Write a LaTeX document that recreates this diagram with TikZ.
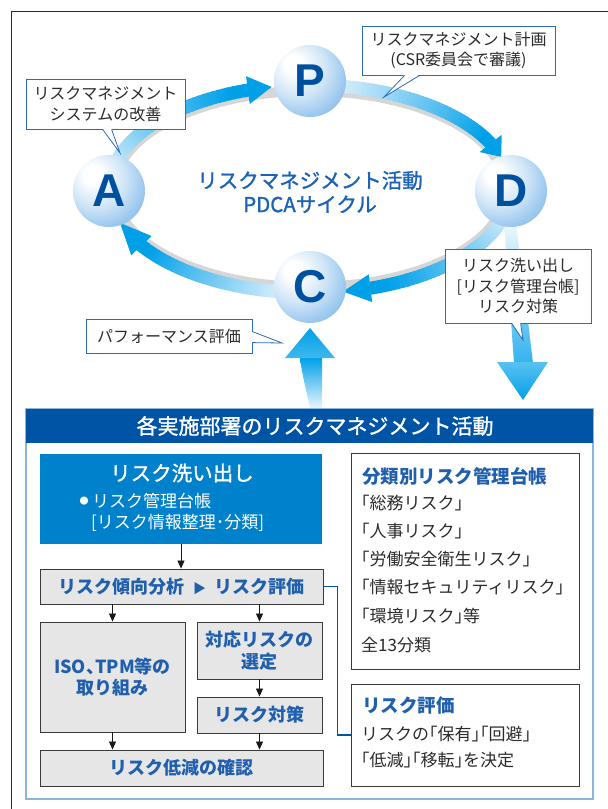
\documentclass[tikz,border=0pt]{standalone}
\usepackage{fontspec}
\setmainfont{Noto Sans CJK JP}[RawFeature=+halt]
\newfontfamily\jpmed[FakeBold=1.3,RawFeature=+halt]{Noto Sans CJK JP}
\newfontfamily\latb{Liberation Sans}
\usetikzlibrary{calc,arrows.meta}
\definecolor{cyanA}{HTML}{00A0E9}
\definecolor{paleA}{HTML}{E3F2FC}
\definecolor{hdrblue}{HTML}{0054A6}
\definecolor{boxblue}{HTML}{0081CC}
\definecolor{txtblue}{HTML}{1F5FAD}
\definecolor{ringtxt}{HTML}{1A63B8}
\definecolor{frameblue}{HTML}{8CB5DD}
\definecolor{callblue}{HTML}{2D6BB5}
\definecolor{darktxt}{HTML}{2B2B2B}
\definecolor{greyfill}{HTML}{E6E6E6}
\definecolor{boxline}{HTML}{3A3A3A}
\definecolor{letterblue}{HTML}{0050A0}
\definecolor{ballin}{HTML}{CFE5F7}
\definecolor{ballmid}{HTML}{8DC0EC}
\definecolor{balledge}{HTML}{4E9CDD}
\definecolor{balldark}{HTML}{2E7ECB}
\definecolor{shadowgrey}{HTML}{D6D6D6}
\pgfdeclareradialshading{pdcaball}{\pgfpoint{-13bp}{13bp}}{color(0bp)=(white); color(6bp)=(white); color(20bp)=(ballin); color(34bp)=(ballmid); color(47bp)=(balledge); color(62bp)=(balldark)}

\newcommand\ringarc[4]{%
  \foreach \i in {0,...,39}{%
    \pgfmathsetmacro\ta{#1+(#2-#1)*\i/40}%
    \pgfmathsetmacro\tb{#1+(#2-#1)*(\i+1.4)/40}%
    \pgfmathsetmacro\pc{min(100,6+\i*2.6)}%
    \draw[line width=13pt, color=cyanA!\pc!paleA] ({310+201*cos(\ta)},{189+104*sin(\ta)}) -- ({310+201*cos(\tb)},{189+104*sin(\tb)});
  }
  \coordinate (#4b) at ({310+201*cos(#2)},{189+104*sin(#2)});
  \coordinate (#4t) at ({310+201*cos(#3)},{189+104*sin(#3)});
  \fill[cyanA] ($(#4b)!14pt!90:(#4t)$) -- (#4t) -- ($(#4b)!14pt!-90:(#4t)$) -- cycle;
}

\tikzset{
  ball/.style={circle, minimum size=72pt, inner sep=0pt, shade, shading=pdcaball, text=letterblue, font=\latb\bfseries\fontsize{46}{46}\selectfont},
  calloutbox/.style={draw=callblue, fill=white, line width=0.8pt, text=darktxt, font=\fontsize{16}{20.5}\selectfont, align=center, inner sep=0pt},
  calltail/.style={draw=callblue, line width=0.8pt},
  greybox/.style={draw=boxline, fill=greyfill, line width=0.9pt, text=txtblue, font=\bfseries\fontsize{18}{21.5}\selectfont, align=center, inner sep=0pt},
  whitebox/.style={draw=boxline, fill=white, line width=0.9pt, inner sep=0pt},
  arr/.style={-{Triangle[width=7pt,length=8pt]}, line width=0.8pt, draw=black!90},
  bodytxt/.style={anchor=west, inner sep=0pt, text=darktxt, font=\fontsize{17}{20}\selectfont},
  titletxt/.style={anchor=west, inner sep=0pt, text=txtblue, font=\bfseries\fontsize{18.5}{22}\selectfont},
}

\begin{document}
\begin{tikzpicture}[x=1pt,y=-1pt]
\useasboundingbox (0,0) rectangle (608,809);
\fill[white] (0,0) rectangle (608,809);
% outer frame
\draw[line width=0.8pt, darktxt] (11.6,809) -- (11.6,11.6) -- (608,11.6);

% shadow ring
\draw[shadowgrey, line width=10pt] (310,189) ellipse[x radius=196, y radius=98];

% down arrow from D
\shade[top color=paleA!50!white, bottom color=cyanA!80!white] (504,222) -- (516,222) -- (533,363) -- (514,363) -- cycle;
\shade[top color=cyanA!65!white, bottom color=cyanA] (497,362) -- (548,362) -- (523,400) -- cycle;

% ring arrows
\ringarc{190}{252}{259}{ap}
\ringarc{-82}{-26}{-18}{pd}
\ringarc{14}{72.5}{80.5}{dc}
\ringarc{98}{147}{161}{ca}

% PDCA balls
\node[ball] (P) at (310,81) {P};
\node[ball] (D) at (511,191) {D};
\node[ball] (C) at (310,287) {C};
\node[ball] (A) at (109,191) {A};

\node[text=ringtxt, align=center, inner sep=0pt, font=\jpmed\fontsize{20.5}{24}\selectfont] (ringtitle) at (310,192) {リスクマネジメント活動\\PDCAサイクル};

% callouts
\node[calloutbox, minimum width=159pt, minimum height=50pt] (cA) at (105.5,104) {リスクマネジメント\\システムの改善};
\coordinate (tA) at (120,153);
\fill[white] ($(cA.south west)+(77,-1)$) -- (tA) -- ($(cA.south west)+(86,-1)$) -- cycle;
\draw[calltail] ($(cA.south west)+(77,0)$) -- (tA) -- ($(cA.south west)+(86,0)$);

\node[calloutbox, minimum width=193pt, minimum height=49pt] (cP) at (458.5,50.5) {リスクマネジメント計画\\{}(CSR委員会で審議)};
\coordinate (tP) at (384,97);
\fill[white] ($(cP.south west)+(43,-1)$) -- (tP) -- ($(cP.south west)+(58,-1)$) -- cycle;
\draw[calltail] ($(cP.south west)+(43,0)$) -- (tP) -- ($(cP.south west)+(58,0)$);

\node[calloutbox, minimum width=146pt, minimum height=74pt] (cD) at (518,286) {リスク洗い出し\\{[}リスク管理台帳{]}\\リスク対策};
\coordinate (tD) at (523,340);
\fill[white] ($(cD.south west)+(67,-1)$) -- (tD) -- ($(cD.south west)+(76,-1)$) -- cycle;
\draw[calltail] ($(cD.south west)+(67,0)$) -- (tD) -- ($(cD.south west)+(76,0)$);

\node[calloutbox, minimum width=166pt, minimum height=34pt] (cC) at (169,336) {パフォーマンス評価};
\coordinate (tC) at (282,343);
\fill[white] ($(cC.north east)+(-1,13)$) -- (tC) -- ($(cC.north east)+(-1,24)$) -- cycle;
\draw[calltail] ($(cC.north east)+(0,13)$) -- (tC) -- ($(cC.north east)+(0,24)$);

% up arrow to C
\shade[top color=cyanA, bottom color=paleA!60!white] (300,358) -- (322,358) -- (322,409) -- (310,409) .. controls (307,392) and (302,375) .. (300,358) -- cycle;
\shade[top color=cyanA, bottom color=cyanA!75!white] (285,358) -- (335,358) -- (310,328) -- cycle;

% bottom section
\draw[frameblue, line width=1.3pt, fill=white] (26,409) rectangle (593,799);
\node[fill=hdrblue, minimum width=567pt, minimum height=34pt, inner sep=0pt] (hdr) at (309.5,426) {};
\node[text=white, inner sep=0pt, font=\jpmed\fontsize{21}{24}\selectfont] (hdrt) at (315,426) {各実施部署のリスクマネジメント活動};

\node[fill=boxblue, minimum width=282pt, minimum height=90pt, inner sep=0pt] (wash) at (181,499) {};
\node[text=white, inner sep=0pt, font=\jpmed\fontsize{20.5}{24}\selectfont] (washt) at (182,473) {リスク洗い出し};
\node[text=white, inner sep=0pt, font=\fontsize{9}{10}\selectfont] (washd) at (84,501) {●};
\node[text=white, anchor=west, inner sep=0pt, font=\fontsize{17}{20}\selectfont] (washa) at (92,501) {リスク管理台帳};
\node[text=white, anchor=west, inner sep=0pt, font=\fontsize{17}{20}\selectfont] (washb) at (91,523) {{[}リスク情報整理･分類{]}};

\node[greybox, minimum width=283pt, minimum height=35pt] (row) at (181.5,586.5) {リスク傾向分析\hspace{9pt}{\fontsize{13}{13}\selectfont ▶}\hspace{9pt}リスク評価};
\node[greybox, minimum width=145pt, minimum height=110pt] (iso) at (112.5,677) {ISO、TPM等の\\取り組み};
\node[greybox, minimum width=125pt, minimum height=57pt] (sel) at (259.5,650.5) {対応リスクの\\選定};
\node[greybox, minimum width=125pt, minimum height=36pt] (tai) at (259.5,715) {リスク対策};
\node[greybox, minimum width=283pt, minimum height=36pt] (low) at (181.5,768) {リスク低減の確認};

\draw[arr] (wash.south) -- (wash.south |- row.north);
\draw[arr] (row.south -| iso.north) -- (iso.north);
\draw[arr] (row.south -| sel.north) -- (sel.north);
\draw[arr] (sel.south) -- (tai.north);
\draw[arr] (iso.south) -- (iso.south |- low.north);
\draw[arr] (tai.south) -- (tai.south |- low.north);

\node[whitebox, minimum width=228pt, minimum height=216pt] (ledger) at (465,561) {};
\node[titletxt] (ledt) at (362,476) {分類別リスク管理台帳};
\foreach \yy/\tt [count=\k] in {503/「総務リスク」, 531/「人事リスク」, 559/「労働安全衛生リスク」, 587/「情報セキュリティリスク」, 616/「環境リスク」等, 645/全13分類}
  \node[bodytxt] (led\k) at (361,\yy) {\tt};

\node[whitebox, minimum width=228pt, minimum height=102pt] (eval) at (465,735) {};
\node[titletxt] (evt) at (362,705) {リスク評価};
\node[bodytxt] (ev1) at (361,734) {リスクの「保有」「回避」};
\node[bodytxt] (ev2) at (361,760) {「低減」「移転」を決定};

\draw[hdrblue, line width=1.5pt] (row.east) -- ++(14,0) |- (eval.west);
\end{tikzpicture}
\end{document}
